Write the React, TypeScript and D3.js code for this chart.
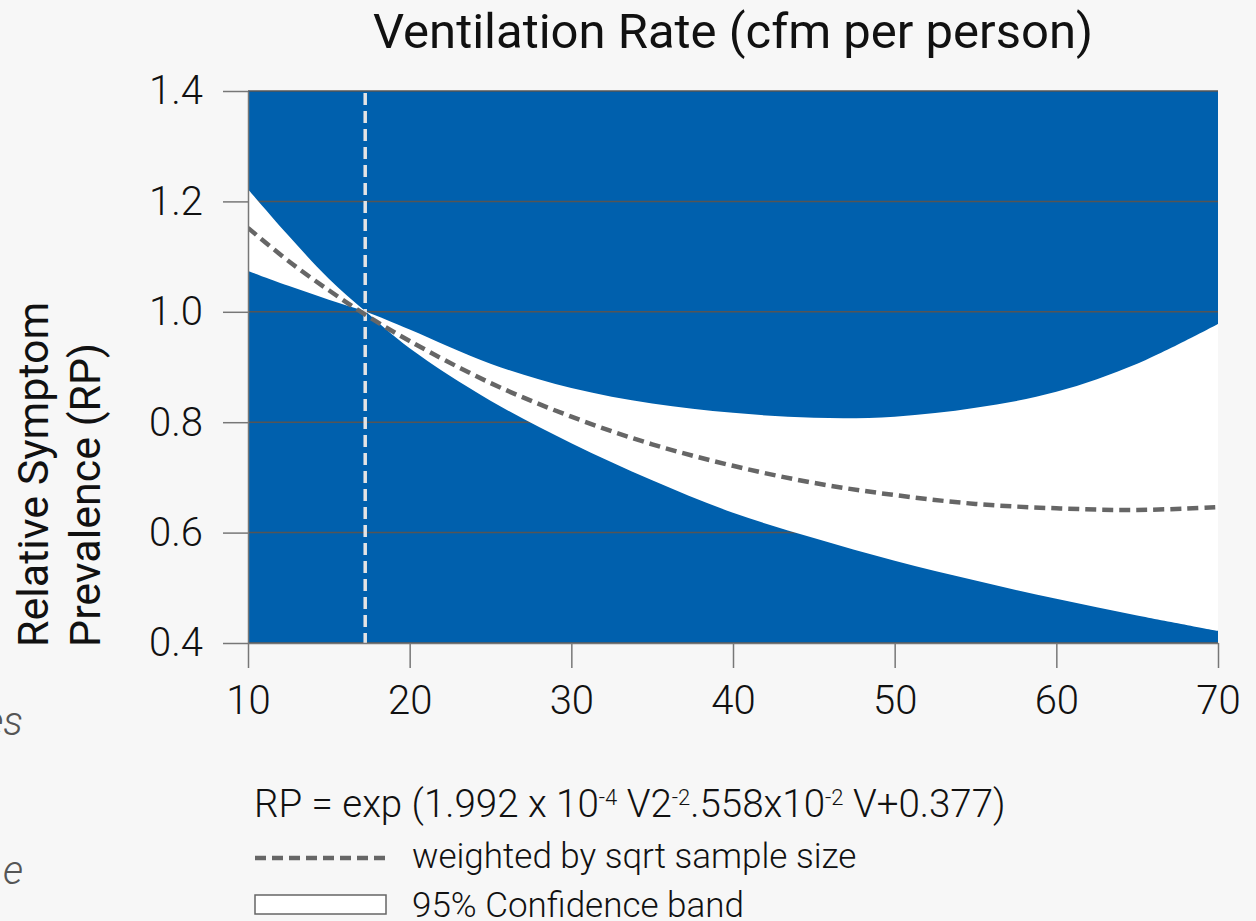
import React, { useEffect, useRef } from "react";
import * as d3 from "d3";

const ventRates = [10, 12.5, 15, 17.3, 20, 25, 30, 35, 40, 45, 50, 55, 60, 65, 70];
// fitted relative symptom prevalence (dashed line)
const fitRP = [1.152, 1.092, 1.039, 0.994, 0.947, 0.871, 0.81, 0.76, 0.721, 0.69, 0.668, 0.652, 0.644, 0.641, 0.646];
// 95% confidence band edges (they cross at the reference rate)
const bandSteep = [1.222, 1.138, 1.06, 1.0, 0.934, 0.839, 0.762, 0.695, 0.636, 0.59, 0.549, 0.513, 0.48, 0.45, 0.422];
const bandFlat = [1.074, 1.047, 1.022, 1.0, 0.968, 0.906, 0.862, 0.834, 0.817, 0.808, 0.81, 0.826, 0.855, 0.906, 0.978];
const referenceRate = 17.25;
const xTicks = [10, 20, 30, 40, 50, 60, 70];
const yTicks = [0.4, 0.6, 0.8, 1.0, 1.2, 1.4];

const BLUE = "#0060ad";
const FONT = "Roboto, 'Noto Sans', sans-serif";

export default function App() {
  const ref = useRef<SVGSVGElement>(null);

  useEffect(() => {
    const svg = d3.select(ref.current);
    svg.selectAll("*").remove();

    const W = 1256, H = 921;
    const margin = { top: 91, right: 38, bottom: 278, left: 248 };
    const w = W - margin.left - margin.right,
      h = H - margin.top - margin.bottom;

    svg.append("rect").attr("width", W).attr("height", H).attr("fill", "#f7f7f7");

    const x = d3.scaleLinear().domain([10, 70]).range([margin.left, margin.left + w]);
    const y = d3.scaleLinear().domain([0.4, 1.4]).range([margin.top + h, margin.top]);

    svg.append("defs").append("clipPath").attr("id", "plotclip")
      .append("rect").attr("x", x(10)).attr("y", y(1.4)).attr("width", w).attr("height", h);

    // blue plot background
    svg.append("rect")
      .attr("x", x(10)).attr("y", y(1.4))
      .attr("width", w).attr("height", h)
      .attr("fill", BLUE);

    // grid lines
    svg.append("g").selectAll("line").data(yTicks).join("line")
      .attr("x1", x(10)).attr("x2", x(70))
      .attr("y1", d => y(d)).attr("y2", d => y(d))
      .attr("stroke", "#555").attr("stroke-width", 1.5);

    const pts = ventRates.map((v, i) => ({ v, a: bandSteep[i], b: bandFlat[i], f: fitRP[i] }));

    // confidence band
    const band = d3.area<any>()
      .x(d => x(d.v))
      .y0(d => y(d.a))
      .y1(d => y(d.b))
      .curve(d3.curveCatmullRom.alpha(0.5));
    svg.append("path")
      .datum(pts)
      .attr("d", band)
      .attr("fill", "#fff")
      .attr("clip-path", "url(#plotclip)");

    // reference rate line
    svg.append("line")
      .attr("x1", x(referenceRate)).attr("x2", x(referenceRate))
      .attr("y1", y(1.4) + 2).attr("y2", y(0.4))
      .attr("stroke", "#e4e4e4").attr("stroke-width", 3.5)
      .attr("stroke-dasharray", "12,6");

    // fitted curve
    const line = d3.line<any>().x(d => x(d.v)).y(d => y(d.f)).curve(d3.curveCatmullRom.alpha(0.5));
    svg.append("path")
      .datum(pts)
      .attr("d", line)
      .attr("fill", "none")
      .attr("stroke", "#666")
      .attr("stroke-width", 4.5)
      .attr("stroke-dasharray", "11,6")
      .attr("clip-path", "url(#plotclip)");

    // Y axis
    const yAxis = svg.append("g")
      .attr("transform", `translate(${x(10)},0)`)
      .call(d3.axisLeft(y).tickValues(yTicks).tickFormat(d3.format(".1f")).tickSize(25).tickSizeOuter(0).tickPadding(20));
    // X axis
    const xAxis = svg.append("g")
      .attr("transform", `translate(0,${y(0.4)})`)
      .call(d3.axisBottom(x).tickValues(xTicks).tickSize(25).tickSizeOuter(0).tickPadding(18));

    [yAxis, xAxis].forEach(g => {
      g.selectAll("path, line").attr("stroke", "#777").attr("stroke-width", 1.5);
      g.selectAll("text")
        .attr("fill", "#111")
        .style("font-family", FONT)
        .style("font-weight", 300)
        .style("font-size", "40px");
    });

    // title
    svg.append("text")
      .attr("x", (x(10) + x(70)) / 2)
      .attr("y", 48)
      .attr("text-anchor", "middle")
      .style("font-family", FONT)
      .style("font-size", "49px")
      .attr("fill", "#111")
      .text("Ventilation Rate (cfm per person)");

    // y axis title (two lines)
    ["Relative Symptom", "Prevalence (RP)"].forEach((t, i) => {
      svg.append("text")
        .attr("transform", `translate(${48 + i * 52},${647}) rotate(-90)`)
        .attr("text-anchor", "start")
        .style("font-family", FONT)
        .style("font-size", "43px")
        .attr("fill", "#111")
        .text(t);
    });

    // formula
    const eq = svg.append("text")
      .attr("x", 254).attr("y", 817)
      .style("font-family", FONT)
      .style("font-weight", 300)
      .style("font-size", "38.5px")
      .attr("fill", "#111");
    const parts: [string, boolean][] = [
      ["RP = exp (1.992 x 10", false], ["-4", true], [" V2", false], ["-2", true],
      [".558x10", false], ["-2", true], [" V+0.377)", false],
    ];
    parts.forEach(([t, sup]) => {
      eq.append("tspan")
        .attr("baseline-shift", sup ? "super" : null)
        .style("font-size", sup ? "22px" : null)
        .text(t);
    });

    // legend
    svg.append("line")
      .attr("x1", 255).attr("x2", 386).attr("y1", 858).attr("y2", 858)
      .attr("stroke", "#666").attr("stroke-width", 4.5).attr("stroke-dasharray", "11,6");
    svg.append("rect")
      .attr("x", 255).attr("y", 895).attr("width", 131).attr("height", 19)
      .attr("fill", "#fff").attr("stroke", "#666").attr("stroke-width", 1.5);
    [["weighted by sqrt sample size", 868], ["95% Confidence band", 917]].forEach(([t, yy]) => {
      svg.append("text")
        .attr("x", 412).attr("y", yy as number)
        .style("font-family", FONT)
        .style("font-weight", 300)
        .style("font-size", "35px")
        .attr("fill", "#111")
        .text(t as string);
    });

    // text cut off at the left edge
    [["es", 735], ["e", 884]].forEach(([t, yy]) => {
      svg.append("text")
        .attr("x", 23).attr("y", yy as number)
        .attr("text-anchor", "end")
        .style("font-family", FONT)
        .style("font-weight", 300)
        .style("font-style", "italic")
        .style("font-size", "40px")
        .attr("fill", "#555")
        .text(t as string);
    });
  }, []);

  return (
    <svg ref={ref} width={1256} height={921}
      style={{ position: "absolute", left: 0, top: 0, display: "block" }} />
  );
}
